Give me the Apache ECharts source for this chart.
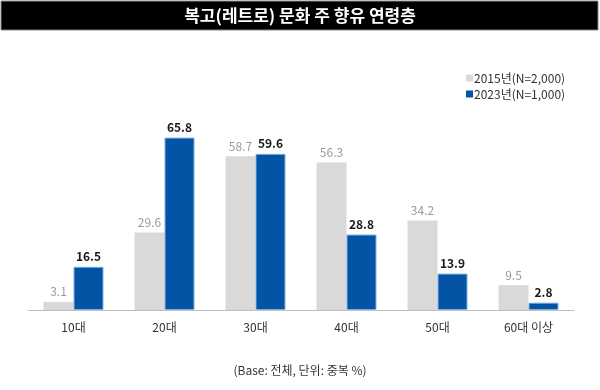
<!DOCTYPE html>
<html><head><meta charset="utf-8">
<script src="https://cdn.jsdelivr.net/npm/echarts@6/dist/echarts.min.js"></script>
<style>html,body{margin:0;padding:0;background:#fff}#c{width:600px;height:390px}</style>
</head><body><div id="c"></div>
<script>
const categories = ['10대','20대','30대','40대','50대','60대 이상'];
const values2015 = [3.1, 29.6, 58.7, 56.3, 34.2, 9.5];
const values2023 = [16.5, 65.8, 59.6, 28.8, 13.9, 2.8];
const seriesNames = ['2015년(N=2,000)','2023년(N=1,000)'];
const titleText = '복고(레트로) 문화 주 향유 연령층';
const noteText = '(Base: 전체, 단위: 중복 %)';

const FONT = '"Noto Sans CJK KR", "Noto Sans", sans-serif';
const chart = echarts.init(document.getElementById('c'));
chart.setOption({
  animation: false,
  textStyle: { fontFamily: FONT },
  graphic: [
    { type: 'rect', shape: { x: 1, y: 1, width: 597, height: 29 },
      style: { fill: '#000', stroke: '#888', lineWidth: 1 } },
    { type: 'text', x: 300, y: 16,
      style: { text: titleText, fill: '#fff', font: 'bold 17px ' + FONT, align: 'center', verticalAlign: 'middle' } },
    { type: 'text', x: 300, y: 370,
      style: { text: noteText, fill: '#333', font: '12px ' + FONT, align: 'center', verticalAlign: 'middle' } }
  ],
  legend: {
    orient: 'vertical', left: 461, top: 67,
    itemWidth: 7, itemHeight: 7, itemGap: 4,
    icon: 'rect',
    itemStyle: { borderWidth: 0 },
    textStyle: { fontSize: 12, color: '#333', fontFamily: FONT, padding: [0,0,0,-4] },
    data: seriesNames
  },
  grid: { left: 28, right: 26, top: 48, bottom: 80 },
  xAxis: {
    type: 'category', data: categories,
    axisLine: { lineStyle: { color: '#bfbfbf', width: 1 } },
    axisTick: { show: false },
    axisLabel: { color: '#333', fontSize: 12, margin: 11, fontFamily: FONT }
  },
  yAxis: { type: 'value', min: 0, max: 100, show: false, splitLine: { show: false } },
  series: [
    { name: seriesNames[0], type: 'bar', data: values2015, barWidth: 30, barGap: '0%',
      itemStyle: { color: '#d9d9d9' },
      label: { show: true, position: 'top', distance: 4, color: '#9a9a9a', fontSize: 12, fontFamily: FONT } },
    { name: seriesNames[1], type: 'bar', data: values2023, barWidth: 30, barGap: '0%',
      itemStyle: { color: '#0454a6', borderColor: '#7fb0e0', borderWidth: 1 },
      label: { show: true, position: 'top', distance: 4, color: '#1a1a1a', fontWeight: 'bold', fontSize: 12, fontFamily: FONT } }
  ]
});
</script></body></html>
